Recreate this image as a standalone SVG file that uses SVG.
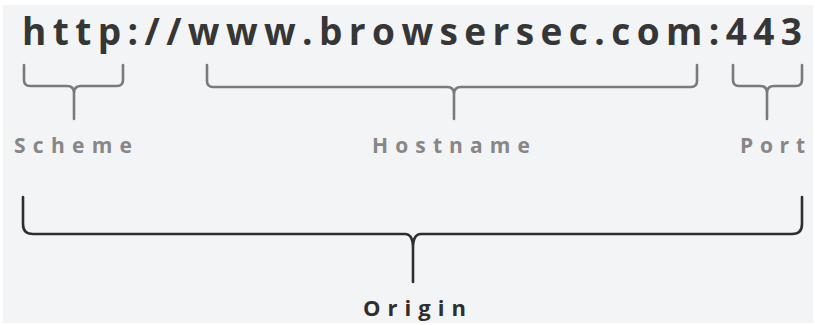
<svg xmlns="http://www.w3.org/2000/svg" width="815" height="325" viewBox="0 0 815 325">
<style>
.url{font-family:"Open Sans","Liberation Sans",sans-serif;font-weight:bold;font-size:37px;fill:#363636}
.lbl{font-family:"Open Sans","Liberation Sans",sans-serif;font-weight:bold;font-size:21px;fill:#878787}
.org{font-family:"Open Sans","Liberation Sans",sans-serif;font-weight:bold;font-size:22px;fill:#2e2e2e}
.br{fill:none;stroke:#7a7a7a;stroke-width:2.6;stroke-linecap:round;stroke-linejoin:round}
.obr{fill:none;stroke:#2e2e2e;stroke-width:2.6;stroke-linecap:round;stroke-linejoin:round}
</style>
<rect x="0" y="0" width="815" height="325" fill="#ffffff"/>
<rect x="3" y="5" width="810" height="318" fill="#f3f4f5"/>
<g id="url">
<text class="url" x="22" y="45" textLength="780" lengthAdjust="spacing">http://www.browsersec.com:443</text>
</g>
<g id="connectors">
<path class="br" d="M24,65 L24,80 Q24,86 30,86 L67,86 Q74,86 74,93 L74,119 M123,65 L123,80 Q123,86 117,86 L81,86 Q74,86 74,93"/>
<path class="br" d="M207,65 L207,81 Q207,87 213,87 L447,87 Q454,87 454,94 L454,119 M697,65 L697,81 Q697,87 691,87 L461,87 Q454,87 454,94"/>
<path class="br" d="M733,65 L733,80 Q733,86 739,86 L760,86 Q767,86 767,93 L767,119 M802,65 L802,80 Q802,86 796,86 L774,86 Q767,86 767,93"/>
<path class="obr" d="M23,197 L23,224 Q23,234 33,234 L405,234 Q413,234 413,248 L413,282 M802,197 L802,224 Q802,234 792,234 L421,234 Q413,234 413,248"/>
</g>
<g id="scheme"><text class="lbl" x="14" y="153" textLength="118" lengthAdjust="spacing">Scheme</text></g>
<g id="hostname"><text class="lbl" x="372" y="153" textLength="158" lengthAdjust="spacing">Hostname</text></g>
<g id="port"><text class="lbl" x="740" y="153" textLength="65" lengthAdjust="spacing">Port</text></g>
<g id="origin"><text class="org" x="363" y="316" textLength="103" lengthAdjust="spacing">Origin</text></g>
</svg>
